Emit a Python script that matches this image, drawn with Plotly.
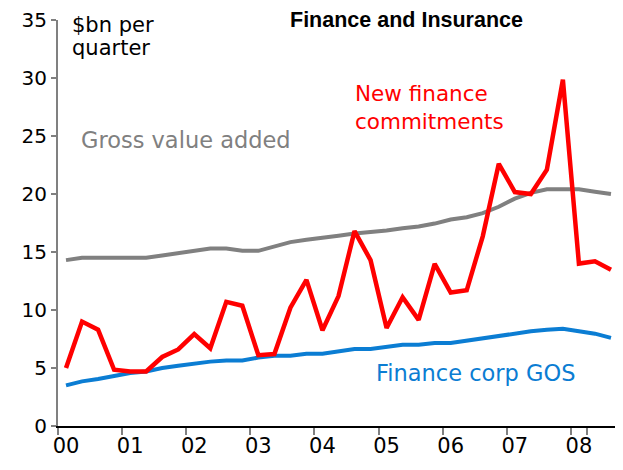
import plotly.graph_objects as go

# quarterly categories, Mar-2000 to Sep-2008
quarters = [f"{yr}Q{q}" for yr in range(2000, 2009) for q in range(1, 5)][:35]
year_starts = [f"{yr}Q1" for yr in range(2000, 2009)]
year_labels = ['00', '01', '02', '03', '04', '05', '06', '07', '08']

new_finance_commitments = [5.0, 9.0, 8.3, 4.85, 4.7, 4.7, 5.95, 6.6, 7.93, 6.7,
                           10.7, 10.37, 6.1, 6.2, 10.2, 12.6, 8.25, 11.2, 16.8, 14.3,
                           8.45, 11.1, 9.15, 13.97, 11.5, 11.7, 16.35, 22.6, 20.17, 20.0,
                           22.1, 29.85, 14.0, 14.2, 13.47]
gross_value_added = [14.3, 14.5, 14.5, 14.5, 14.5, 14.5, 14.7, 14.9, 15.1, 15.3,
                     15.3, 15.1, 15.1, 15.5, 15.85, 16.05, 16.2, 16.4, 16.6, 16.7,
                     16.85, 17.05, 17.2, 17.45, 17.8, 18.0, 18.35, 18.9, 19.6, 20.1,
                     20.4, 20.4, 20.4, 20.2, 20.0]
finance_corp_gos = [3.5, 3.85, 4.05, 4.28, 4.57, 4.7, 5.0, 5.2, 5.4, 5.55,
                    5.65, 5.65, 5.9, 6.06, 6.06, 6.23, 6.23, 6.43, 6.64, 6.64,
                    6.8, 7.0, 7.0, 7.15, 7.15, 7.35, 7.58, 7.8, 7.96, 8.16,
                    8.3, 8.39, 8.16, 7.96, 7.6]

RED = '#FF0000'
GREY = '#808080'
BLUE = '#0B7DD3'
FONT = 'DejaVu Sans'

fig = go.Figure()
fig.add_trace(go.Scatter(x=quarters, y=gross_value_added, mode='lines',
                         line=dict(color=GREY, width=4)))
fig.add_trace(go.Scatter(x=quarters, y=finance_corp_gos, mode='lines',
                         line=dict(color=BLUE, width=4)))
fig.add_trace(go.Scatter(x=quarters, y=new_finance_commitments, mode='lines',
                         line=dict(color=RED, width=4.5)))

# plot area in the window: x from 58px to 623px, y from 20px (35) to 426px (0)
# (the page body adds an 8px offset)
def px_x(p):
    return (p - 58) / 565

def px_y(p):
    return (426 - p) / 406

annotations = [
    dict(text='<b>Finance and Insurance</b>', x=px_x(406), y=px_y(20),
         font=dict(family='Liberation Sans', size=21.5, color='black')),
    dict(text='$bn per', x=px_x(70), y=px_y(25), xanchor='left',
         font=dict(family=FONT, size=21, color='black')),
    dict(text='quarter', x=px_x(70), y=px_y(48), xanchor='left',
         font=dict(family=FONT, size=21, color='black')),
    dict(text='Gross value added', x=px_x(79), y=px_y(140), xanchor='left',
         font=dict(family=FONT, size=22.5, color=GREY)),
    dict(text='New finance<br>commitments', x=px_x(353), y=px_y(108), xanchor='left',
         align='left', font=dict(family=FONT, size=21.5, color=RED)),
    dict(text='Finance corp GOS', x=px_x(374), y=px_y(373), xanchor='left',
         font=dict(family=FONT, size=22.5, color=BLUE)),
]
for a in annotations:
    a.update(xref='paper', yref='paper', showarrow=False, yanchor='middle')
    a.setdefault('xanchor', 'center')

fig.update_layout(
    width=615, height=462,
    margin=dict(l=50, r=0, t=12, b=44),
    plot_bgcolor='white', paper_bgcolor='white',
    showlegend=False,
    font=dict(family=FONT, size=20, color='black'),
    annotations=annotations,
)
fig.update_xaxes(
    type='category', range=[-0.5, 34.75], automargin=False,
    tickmode='array', tickvals=year_starts, ticktext=year_labels, tickangle=0,
    tickson='boundaries', ticks='outside', ticklen=7, tickcolor=GREY, tickwidth=1.5,
    showline=True, linecolor='black', linewidth=1.5,
    showgrid=False, zeroline=False,
    tickfont=dict(family=FONT, size=21, color='black'),
)
fig.update_yaxes(
    range=[0, 35], dtick=5, automargin=False,
    ticks='outside', ticklen=5, tickcolor=GREY, tickwidth=1.5,
    showline=True, linecolor=GREY, linewidth=2,
    showgrid=False, zeroline=False,
    tickfont=dict(family=FONT, size=20, color='black'),
)

fig.write_html("out.html")
